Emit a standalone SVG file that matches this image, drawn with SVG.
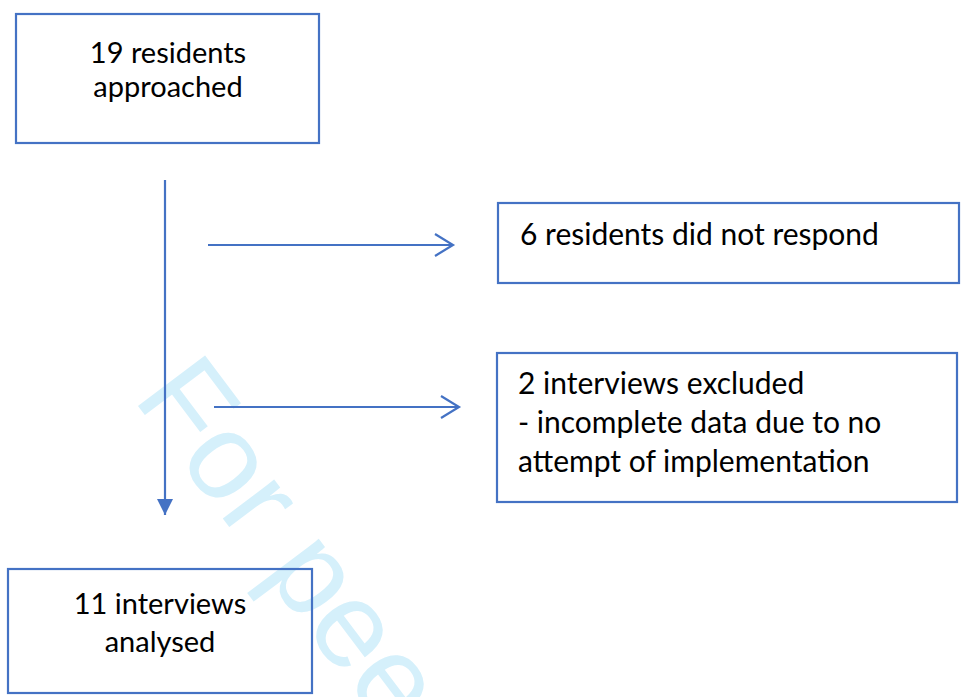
<svg xmlns="http://www.w3.org/2000/svg" width="961" height="697" viewBox="0 0 961 697">
<style>
.box{fill:none;stroke:#4472C4;stroke-width:2.2}
.t{font-family:Lato,"Liberation Sans",sans-serif;fill:#000}
.c{stroke:#4472C4;stroke-width:2.2;fill:none}
.wm{font-family:"Liberation Sans",Arial,sans-serif;font-size:122px;fill:#D5F0FB}
</style>
<defs>
<marker id="open" markerUnits="userSpaceOnUse" markerWidth="24" markerHeight="28" refX="20" refY="12" orient="auto" overflow="visible">
<path d="M2,1 L20,12 L2,23" fill="none" stroke="#4472C4" stroke-width="2.2"/>
</marker>
<marker id="solid" markerUnits="userSpaceOnUse" markerWidth="20" markerHeight="20" refX="16" refY="8" orient="auto" overflow="visible">
<path d="M0,0 L16,8 L0,16 Z" fill="#4472C4"/>
</marker>
</defs>
<text class="wm" transform="translate(132,398) rotate(53)">For pee</text>
<g id="connectors">
<line class="c" x1="165" y1="180" x2="165" y2="515" marker-end="url(#solid)"/>
<line class="c" x1="208" y1="245" x2="453" y2="245" marker-end="url(#open)"/>
<line class="c" x1="214" y1="407" x2="459" y2="407" marker-end="url(#open)"/>
</g>
<g id="n1">
<rect class="box" x="16" y="14" width="303" height="129"/>
<text class="t" font-size="29" text-anchor="middle"><tspan x="168" y="63">19 residents</tspan><tspan x="168" y="97">approached</tspan></text>
</g>
<g id="n2">
<rect class="box" x="498" y="203" width="461" height="80"/>
<text class="t" font-size="30" x="520" y="245">6 residents did not respond</text>
</g>
<g id="n3">
<rect class="box" x="497" y="353" width="460" height="149"/>
<text class="t" font-size="30"><tspan x="518" y="394">2 interviews excluded</tspan><tspan x="518" y="433">- incomplete data due to no</tspan><tspan x="518" y="472">attempt of implementation</tspan></text>
</g>
<g id="n4">
<rect class="box" x="8" y="569" width="304" height="124"/>
<text class="t" font-size="29" text-anchor="middle"><tspan x="160" y="614">11 interviews</tspan><tspan x="160" y="652">analysed</tspan></text>
</g>
</svg>
